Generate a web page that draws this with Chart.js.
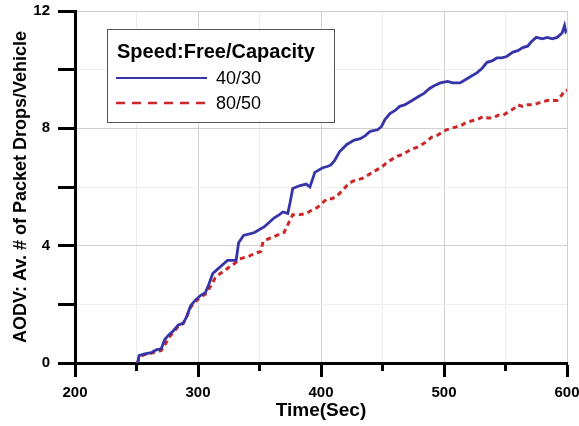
<!DOCTYPE html>
<html>
<head>
<meta charset="utf-8">
<script src="https://cdn.jsdelivr.net/npm/chart.js@4"></script>
<style>
  html, body { margin: 0; padding: 0; background: #fff; }
  #wrap { width: 579px; height: 426px; position: relative; }
</style>
</head>
<body>
<div id="wrap"><canvas id="c" width="579" height="426"></canvas></div>
<script>
// ---- data ----
const legendTitle = 'Speed:Free/Capacity';
const seriesNames = ['40/30', '80/50'];
const xTitle = 'Time(Sec)';
const yTitle = 'AODV: Av. # of Packet Drops/Vehicle';

const blueTime = [251,252,256,262,266,270,273,276,280,284,288,291,294,298,302,306,309,312,316,320,324,331,333,337,342,346,350,354,358,362,366,369,373,375,377,383,388,391,395,401,405,408,411,415,421,427,432,436,440,446,449,452,456,460,464,468,472,476,480,484,488,492,497,503,507,513,517,521,527,531,535,539,543,547,551,556,560,564,568,571,575,580,584,588,592,596,598,599,600];
const blueDrops = [0,0.25,0.3,0.35,0.45,0.48,0.8,0.95,1.1,1.3,1.35,1.6,1.95,2.15,2.3,2.4,2.7,3.05,3.2,3.35,3.5,3.5,4.1,4.35,4.4,4.45,4.55,4.65,4.8,4.95,5.05,5.15,5.1,5.5,5.95,6.05,6.1,6.0,6.5,6.65,6.7,6.75,6.9,7.2,7.45,7.6,7.65,7.75,7.9,7.95,8.05,8.3,8.5,8.6,8.75,8.8,8.9,9.0,9.1,9.2,9.35,9.45,9.55,9.6,9.55,9.55,9.65,9.75,9.9,10.05,10.25,10.3,10.4,10.4,10.45,10.6,10.65,10.75,10.8,10.95,11.1,11.05,11.1,11.05,11.1,11.25,11.5,11.3,11.35];

const redTime = [251,252,256,262,266,270,273,276,280,284,288,291,294,298,302,306,310,314,318,322,326,330,334,338,342,347,351,353,358,364,370,374,377,382,388,392,397,401,405,409,413,418,422,426,430,434,438,442,446,450,454,458,462,466,470,474,478,482,486,490,494,498,502,506,510,514,518,522,527,532,536,540,544,548,552,556,560,564,568,572,576,580,584,588,592,596,598,600];
const redDrops = [0,0.2,0.28,0.33,0.4,0.42,0.6,0.85,1.05,1.25,1.35,1.6,1.9,2.1,2.25,2.35,2.6,2.9,3.05,3.15,3.3,3.4,3.55,3.6,3.65,3.75,3.8,4.15,4.25,4.35,4.45,4.8,5.05,5.05,5.1,5.2,5.3,5.45,5.6,5.6,5.7,5.9,6.1,6.2,6.25,6.3,6.4,6.5,6.6,6.7,6.85,6.95,7.05,7.1,7.2,7.3,7.35,7.45,7.55,7.7,7.75,7.85,7.95,8.0,8.05,8.1,8.2,8.25,8.3,8.4,8.35,8.35,8.45,8.45,8.55,8.65,8.8,8.75,8.8,8.8,8.85,8.9,8.95,8.95,8.95,9.15,9.3,9.3];

const xTickLabels = [200, 300, 400, 500, 600];
const yTickLabels = [0, 4, 8, 12];

// ---- chart ----
const FONT = "'Liberation Sans', Arial, sans-serif";
const BLUE = '#3535a8';
const RED = '#cc2626';

const toPoints = (xs, ys) => xs.map((x, i) => ({ x: x, y: ys[i] }));

const minorTicksPlugin = {
  id: 'minorTicks',
  afterDraw(chart) {
    const ctx = chart.ctx;
    const xs = chart.scales.x;
    ctx.save();
    ctx.strokeStyle = '#000';
    ctx.lineWidth = 3;
    xs.ticks.forEach(t => {
      if (t.value % 100 !== 0) {
        const px = xs.getPixelForValue(t.value);
        ctx.beginPath();
        ctx.moveTo(px, xs.top);
        ctx.lineTo(px, xs.top + 8);
        ctx.stroke();
      }
    });
    ctx.restore();
  }
};

const boxLegendPlugin = {
  id: 'boxLegend',
  afterDraw(chart) {
    const ctx = chart.ctx;
    const x0 = 107, y0 = 29, w = 227, h = 93;
    ctx.save();
    ctx.fillStyle = '#fff';
    ctx.fillRect(x0, y0, w, h);
    ctx.strokeStyle = '#555';
    ctx.lineWidth = 1;
    ctx.strokeRect(x0 + 0.5, y0 + 0.5, w, h);
    ctx.fillStyle = '#000';
    ctx.textBaseline = 'middle';
    ctx.textAlign = 'left';
    ctx.font = 'bold 20px ' + FONT;
    ctx.fillText(legendTitle, 117, 52);
    const rows = [78, 103];
    chart.data.datasets.forEach((ds, i) => {
      ctx.strokeStyle = ds.borderColor;
      ctx.lineWidth = i === 0 ? 2 : 2.5;
      ctx.setLineDash(i === 0 ? [] : [9, 7]);
      ctx.beginPath();
      ctx.moveTo(116, rows[i]);
      ctx.lineTo(207, rows[i]);
      ctx.stroke();
      ctx.setLineDash([]);
      ctx.fillStyle = '#000';
      ctx.font = '18px ' + FONT;
      ctx.fillText(ds.label, 216, rows[i] + 1);
    });
    ctx.restore();
  }
};

new Chart(document.getElementById('c'), {
  type: 'line',
  data: {
    datasets: [
      {
        label: seriesNames[0],
        data: toPoints(blueTime, blueDrops),
        borderColor: BLUE,
        borderWidth: 2.8,
        pointRadius: 0,
        tension: 0,
        fill: false
      },
      {
        label: seriesNames[1],
        data: toPoints(redTime, redDrops),
        borderColor: RED,
        borderWidth: 3,
        borderDash: [5, 4],
        pointRadius: 0,
        tension: 0,
        fill: false
      }
    ]
  },
  options: {
    responsive: false,
    animation: false,
    layout: { padding: { top: 11, right: 12, left: 0, bottom: 0 } },
    plugins: {
      legend: { display: false },
      tooltip: { enabled: false }
    },
    scales: {
      x: {
        type: 'linear',
        min: 200,
        max: 600,
        afterFit(s) { s.height = 63; s.paddingLeft = 0; s.paddingRight = 0; },
        ticks: {
          stepSize: 50,
          autoSkip: false,
          maxRotation: 0,
          padding: 7,
          color: '#000',
          font: { family: FONT, size: 15, weight: 'bold' },
          callback: v => (xTickLabels.includes(v) ? String(v) : '')
        },
        grid: {
          color: c => (c.tick && c.tick.value % 100 === 0 ? '#d0d0d0' : '#ededed'),
          lineWidth: 1,
          tickLength: 14,
          tickColor: c => (c.tick && c.tick.value % 100 === 0 ? '#000' : 'rgba(0,0,0,0)'),
          tickWidth: 3
        },
        border: { color: '#000', width: 3 },
        title: {
          display: true,
          text: xTitle,
          color: '#000',
          font: { family: FONT, size: 19, weight: 'bold' },
          padding: { top: 0, bottom: 4 }
        }
      },
      y: {
        type: 'linear',
        min: 0,
        max: 12,
        afterFit(s) { s.width = 75; s.paddingTop = 0; s.paddingBottom = 0; },
        ticks: {
          stepSize: 2,
          autoSkip: false,
          padding: 8,
          color: '#000',
          font: { family: FONT, size: 15, weight: 'bold' },
          callback: v => (yTickLabels.includes(v) ? String(v) : '')
        },
        grid: {
          color: c => (c.tick && c.tick.value % 4 === 0 ? '#d0d0d0' : '#ededed'),
          lineWidth: 1,
          tickLength: 17,
          tickColor: '#000',
          tickWidth: 3
        },
        border: { color: '#000', width: 3 },
        title: {
          display: true,
          text: yTitle,
          color: '#000',
          font: { family: FONT, size: 18, weight: 'bold' },
          padding: { top: 10, bottom: 0 }
        }
      }
    }
  },
  plugins: [minorTicksPlugin, boxLegendPlugin]
});
</script>
</body>
</html>
